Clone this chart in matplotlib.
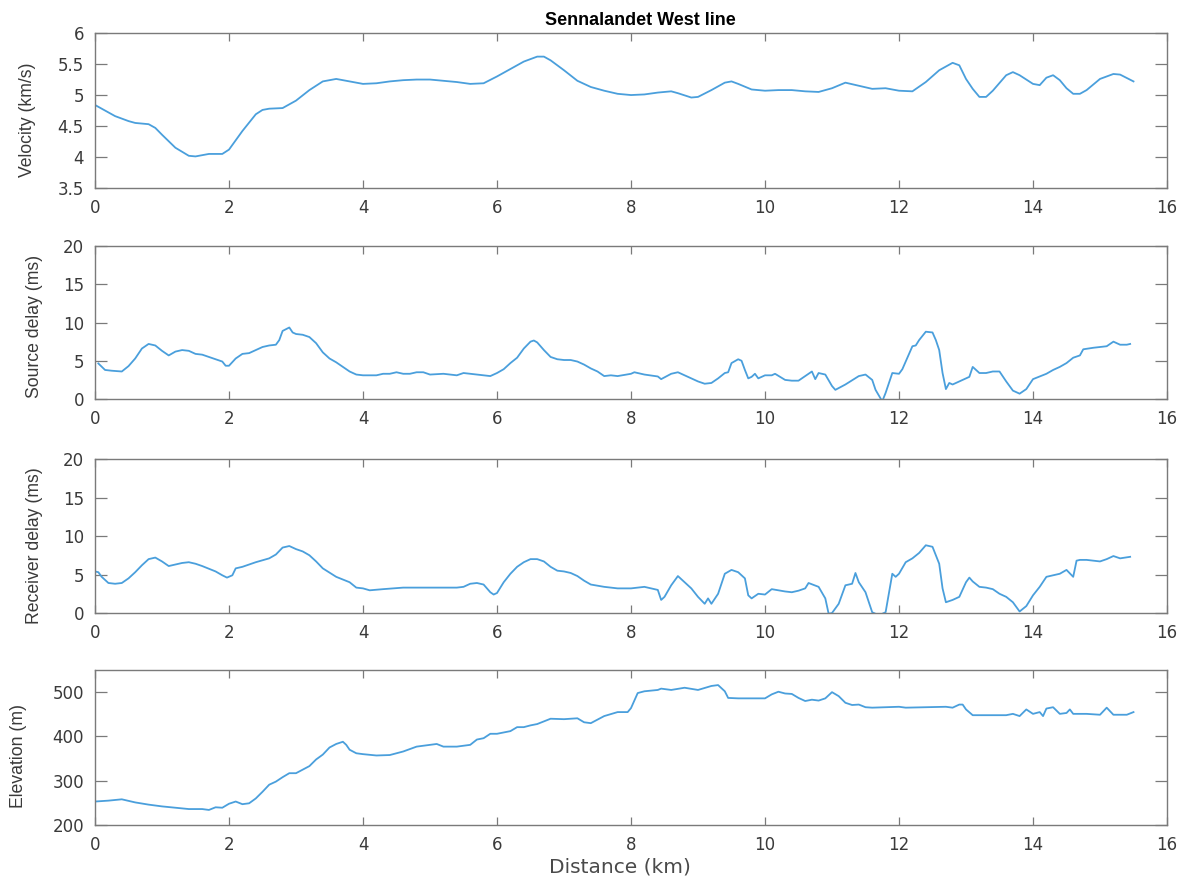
import matplotlib
matplotlib.use("Agg")
import matplotlib.pyplot as plt

plt.rcParams['font.family'] = ['DejaVu Sans']

# ---------------- data ----------------
vel_x = [0.0, 0.3, 0.5, 0.6, 0.8, 0.9, 1.0, 1.2, 1.4, 1.5, 1.7, 1.9, 2.0, 2.2, 2.4, 2.5, 2.6, 2.8,
         3.0, 3.2, 3.4, 3.6, 3.8, 4.0, 4.2, 4.4, 4.6, 4.8, 5.0, 5.2, 5.4, 5.6, 5.8, 6.0, 6.2, 6.4,
         6.6, 6.7, 6.8, 7.0, 7.2, 7.4, 7.6, 7.8, 8.0, 8.2, 8.4, 8.6, 8.7, 8.9, 9.0, 9.2, 9.4, 9.5,
         9.6, 9.8, 10.0, 10.2, 10.4, 10.6, 10.8, 11.0, 11.2, 11.4, 11.6, 11.8, 12.0, 12.2, 12.4,
         12.6, 12.8, 12.9, 13.0, 13.1, 13.2, 13.3, 13.4, 13.6, 13.7, 13.8, 14.0, 14.1, 14.2, 14.3,
         14.4, 14.5, 14.6, 14.7, 14.8, 15.0, 15.2, 15.3, 15.5]
vel_y = [4.84, 4.66, 4.58, 4.55, 4.53, 4.47, 4.36, 4.15, 4.02, 4.01, 4.05, 4.05, 4.12, 4.42, 4.69,
         4.76, 4.78, 4.79, 4.91, 5.08, 5.22, 5.26, 5.22, 5.18, 5.19, 5.22, 5.24, 5.25, 5.25, 5.23,
         5.21, 5.18, 5.19, 5.30, 5.42, 5.54, 5.62, 5.62, 5.56, 5.40, 5.23, 5.13, 5.07, 5.02, 5.00,
         5.01, 5.04, 5.06, 5.03, 4.96, 4.97, 5.08, 5.20, 5.22, 5.18, 5.09, 5.07, 5.08, 5.08, 5.06,
         5.05, 5.11, 5.20, 5.15, 5.10, 5.11, 5.07, 5.06, 5.21, 5.40, 5.52, 5.48, 5.26, 5.10, 4.97,
         4.97, 5.07, 5.32, 5.37, 5.32, 5.18, 5.16, 5.28, 5.32, 5.24, 5.11, 5.02, 5.02, 5.08, 5.26,
         5.34, 5.33, 5.22]

src_x = [0.05, 0.15, 0.25, 0.4, 0.5, 0.6, 0.7, 0.8, 0.9, 1.0, 1.1, 1.2, 1.3, 1.4, 1.5, 1.6, 1.7,
         1.8, 1.9, 1.95, 2.0, 2.1, 2.2, 2.3, 2.4, 2.5, 2.6, 2.7, 2.75, 2.8, 2.9, 2.95, 3.0, 3.1,
         3.2, 3.3, 3.4, 3.5, 3.6, 3.7, 3.8, 3.9, 4.0, 4.2, 4.3, 4.4, 4.5, 4.6, 4.7, 4.8, 4.9, 5.0,
         5.2, 5.4, 5.5, 5.6, 5.8, 5.9, 6.0, 6.1, 6.2, 6.3, 6.4, 6.5, 6.55, 6.6, 6.7, 6.8, 6.9, 7.0,
         7.1, 7.2, 7.3, 7.4, 7.5, 7.6, 7.7, 7.8, 8.0, 8.05, 8.2, 8.4, 8.45, 8.6, 8.7, 8.8, 9.0,
         9.1, 9.2, 9.3, 9.4, 9.45, 9.5, 9.6, 9.65, 9.7, 9.75, 9.8, 9.85, 9.9, 10.0, 10.1, 10.15,
         10.3, 10.4, 10.5, 10.6, 10.7, 10.75, 10.8, 10.9, 11.0, 11.05, 11.2, 11.4, 11.5, 11.6,
         11.65, 11.75, 11.8, 11.9, 12.0, 12.05, 12.1, 12.2, 12.25, 12.3, 12.4, 12.5, 12.55, 12.6,
         12.65, 12.7, 12.75, 12.8, 12.9, 13.0, 13.05, 13.1, 13.2, 13.3, 13.4, 13.5, 13.6, 13.7,
         13.8, 13.9, 14.0, 14.2, 14.3, 14.4, 14.5, 14.6, 14.7, 14.75, 14.9, 15.0, 15.1, 15.2,
         15.3, 15.4, 15.45]
src_y = [4.65, 3.8, 3.7, 3.6, 4.3, 5.3, 6.6, 7.2, 7.0, 6.3, 5.7, 6.2, 6.4, 6.3, 5.9, 5.8, 5.5,
         5.2, 4.9, 4.35, 4.35, 5.3, 5.9, 6.0, 6.4, 6.8, 7.0, 7.1, 7.7, 8.9, 9.35, 8.7, 8.5, 8.4,
         8.1, 7.3, 6.1, 5.3, 4.8, 4.2, 3.6, 3.2, 3.1, 3.1, 3.3, 3.3, 3.5, 3.3, 3.3, 3.5, 3.5, 3.2,
         3.3, 3.1, 3.4, 3.3, 3.1, 3.0, 3.4, 3.9, 4.7, 5.4, 6.6, 7.5, 7.65, 7.4, 6.4, 5.5, 5.2, 5.1,
         5.1, 4.9, 4.5, 4.0, 3.6, 3.0, 3.1, 3.0, 3.3, 3.5, 3.2, 2.95, 2.6, 3.3, 3.5, 3.1, 2.3,
         2.0, 2.1, 2.7, 3.4, 3.5, 4.7, 5.2, 5.0, 3.8, 2.7, 2.9, 3.3, 2.7, 3.1, 3.1, 3.3,
         2.5, 2.4, 2.4, 3.0, 3.6, 2.6, 3.4, 3.2, 1.7, 1.2, 1.9, 3.0, 3.2, 2.5,
         1.2, -0.3, 0.8, 3.4, 3.3, 3.9, 4.9, 6.9, 7.0, 7.7, 8.8, 8.7, 7.7, 6.4,
         3.4, 1.3, 2.1, 1.9, 2.3, 2.7, 2.9, 4.2, 3.4, 3.4, 3.6, 3.6, 2.3, 1.1,
         0.7, 1.3, 2.6, 3.3, 3.8, 4.2, 4.7, 5.4, 5.7, 6.5, 6.7, 6.8, 6.9, 7.5,
         7.1, 7.1, 7.2]

rec_x = [0.0, 0.05, 0.1, 0.2, 0.3, 0.4, 0.5, 0.6, 0.7, 0.8, 0.9, 1.0, 1.1, 1.2, 1.3, 1.4, 1.5,
         1.6, 1.8, 1.9, 1.97, 2.05, 2.1, 2.2, 2.4, 2.6, 2.7, 2.8, 2.9, 3.0, 3.1, 3.2, 3.3, 3.4,
         3.6, 3.8, 3.9, 4.0, 4.1, 4.3, 4.6, 5.0, 5.4, 5.5, 5.6, 5.7, 5.8, 5.9, 5.95, 6.0, 6.1,
         6.2, 6.3, 6.4, 6.5, 6.6, 6.7, 6.8, 6.9, 7.0, 7.1, 7.2, 7.3, 7.4, 7.6, 7.8, 8.0, 8.2,
         8.4, 8.45, 8.5, 8.6, 8.7, 8.8, 8.9, 9.0, 9.1, 9.15, 9.2, 9.3, 9.4, 9.5, 9.6, 9.7, 9.75,
         9.8, 9.9, 10.0, 10.1, 10.3, 10.4, 10.5, 10.6, 10.65, 10.8, 10.9, 10.95, 11.0, 11.1, 11.2,
         11.3, 11.35, 11.4, 11.5, 11.6, 11.7, 11.8, 11.9, 11.95, 12.0, 12.1, 12.2, 12.3, 12.4,
         12.5, 12.6, 12.65, 12.7, 12.8, 12.9, 13.0, 13.05, 13.1, 13.2, 13.3, 13.4, 13.5, 13.6,
         13.7, 13.8, 13.9, 14.0, 14.1, 14.2, 14.3, 14.4, 14.5, 14.6, 14.65, 14.7, 14.8, 15.0,
         15.1, 15.2, 15.3, 15.45]
rec_y = [5.4, 5.3, 4.7, 3.9, 3.8, 3.9, 4.5, 5.3, 6.2, 7.0, 7.2, 6.7, 6.1, 6.3, 6.5, 6.6, 6.4,
         6.1, 5.4, 4.9, 4.6, 4.9, 5.8, 6.0, 6.6, 7.1, 7.6, 8.5, 8.7, 8.3, 8.0, 7.5, 6.7, 5.8,
         4.7, 4.0, 3.3, 3.2, 2.95, 3.1, 3.3, 3.3, 3.3, 3.4, 3.8, 3.9, 3.7, 2.7, 2.4, 2.6, 4.0,
         5.1, 6.0, 6.6, 7.0, 7.0, 6.7, 6.0, 5.5, 5.4, 5.2, 4.8, 4.2, 3.7, 3.4, 3.2, 3.2, 3.4,
         3.0, 1.7, 2.1, 3.6, 4.8, 4.0, 3.2, 2.1, 1.2, 1.9, 1.2, 2.5, 5.1, 5.6, 5.3, 4.5, 2.3,
         1.9, 2.5, 2.4, 3.1, 2.8, 2.7, 2.9, 3.2, 3.9, 3.4, 1.9, -0.1, 0.0, 1.2, 3.6,
         3.8, 5.2, 4.0, 2.7, 0.1, -0.3, 0.1, 5.1, 4.7, 5.1, 6.6, 7.1, 7.8, 8.8,
         8.6, 6.4, 3.2, 1.4, 1.7, 2.1, 4.0, 4.6, 4.1, 3.4, 3.3, 3.1, 2.5, 2.1,
         1.4, 0.2, 0.9, 2.3, 3.4, 4.7, 4.9, 5.1, 5.6, 4.7, 6.8, 6.9, 6.9, 6.7,
         7.0, 7.4, 7.1, 7.3]

elev_x = [0.0, 0.2, 0.4, 0.6, 0.8, 1.0, 1.2, 1.4, 1.6, 1.7, 1.8, 1.9, 2.0, 2.1, 2.2, 2.3, 2.4,
          2.5, 2.6, 2.7, 2.8, 2.9, 3.0, 3.1, 3.2, 3.3, 3.4, 3.5, 3.6, 3.7, 3.75, 3.8, 3.9, 4.0,
          4.2, 4.4, 4.6, 4.8, 5.0, 5.1, 5.2, 5.4, 5.6, 5.7, 5.8, 5.9, 6.0, 6.2, 6.3, 6.4, 6.5,
          6.6, 6.7, 6.8, 7.0, 7.2, 7.3, 7.4, 7.6, 7.8, 7.95, 8.0, 8.1, 8.2, 8.4, 8.45, 8.6, 8.8,
          9.0, 9.2, 9.3, 9.4, 9.45, 9.6, 10.0, 10.1, 10.2, 10.3, 10.4, 10.5, 10.6, 10.7, 10.8,
          10.9, 11.0, 11.1, 11.2, 11.3, 11.4, 11.5, 11.6, 12.0, 12.1, 12.7, 12.8, 12.9, 12.95,
          13.0, 13.1, 13.6, 13.7, 13.8, 13.9, 14.0, 14.1, 14.15, 14.2, 14.3, 14.4, 14.5, 14.55,
          14.6, 14.8, 15.0, 15.1, 15.2, 15.4, 15.5]
elev_y = [253, 255, 258, 251, 246, 242, 239, 236, 236, 234, 240, 239, 248, 253, 247, 249, 260,
          275, 291, 298, 308, 317, 317, 325, 333, 348, 359, 375, 383, 388, 381, 370, 362, 360,
          357, 358, 366, 377, 381, 383, 377, 377, 381, 393, 396, 406, 406, 412, 421, 421, 425,
          428, 434, 440, 439, 441, 432, 430, 446, 455, 455, 464, 498, 502, 505, 508, 505, 510,
          505, 514, 516, 502, 487, 486, 486, 495, 501, 497, 496, 487, 480, 483, 481,
          486, 500, 491, 476, 471, 472, 466, 465, 467, 465, 467, 465, 472, 472,
          461, 448, 448, 451, 446, 461, 451, 455, 446, 463, 466, 451, 453, 461,
          451, 451, 449, 465, 449, 449, 455]

title = "Sennalandet West line"
ylabels = ["Velocity (km/s)", "Source delay (ms)", "Receiver delay (ms)", "Elevation (m)"]
xlabel = "Distance (km)"
xticks = [0, 2, 4, 6, 8, 10, 12, 14, 16]
yticks = [[3.5, 4, 4.5, 5, 5.5, 6], [0, 5, 10, 15, 20], [0, 5, 10, 15, 20], [200, 300, 400, 500]]
ylims = [(3.5, 6), (0, 20), (0, 20), (200, 550)]
ytick_labels = [["3.5", "4", "4.5", "5", "5.5", "6"], None, None, None]

# ---------------- figure ----------------
fig = plt.figure(figsize=(11.89, 8.77), dpi=100)
line_color = '#4a9fdc'
edge = '#7a7a7a'
text_c = '#3a3a3a'
narrow = ['Liberation Sans', 'DejaVu Sans']

boxes = [
    (0.0799, 0.7856, 0.9016, 0.1767),
    (0.0799, 0.5450, 0.9016, 0.1745),
    (0.0799, 0.3010, 0.9016, 0.1756),
    (0.0799, 0.0593, 0.9016, 0.1767),
]
label_pos = [(-0.0634, 0.44), (-0.0569, 0.477), (-0.0569, 0.44), (-0.0718, 0.445)]
series = [(vel_x, vel_y), (src_x, src_y), (rec_x, rec_y), (elev_x, elev_y)]

for i, (box, (xs, ys)) in enumerate(zip(boxes, series)):
    ax = fig.add_axes(box)
    ax.plot(xs, ys, color=line_color, lw=1.3)
    ax.set_xlim(0, 16)
    ax.set_ylim(*ylims[i])
    ax.set_xticks(xticks)
    ax.set_yticks(yticks[i])
    if ytick_labels[i] is not None:
        ax.set_yticklabels(ytick_labels[i])
    ax.tick_params(axis='x', direction='in', top=True, length=5.8, width=0.9,
                   color=edge, labelcolor=text_c, labelsize=12, pad=8)
    ax.tick_params(axis='y', direction='in', right=True, length=8.6, width=0.9,
                   color=edge, labelcolor=text_c, labelsize=12, pad=8)
    for s in ax.spines.values():
        s.set_color(edge)
        s.set_linewidth(1.0)
    ax.set_ylabel(ylabels[i], fontsize=12.7, color=text_c, va='center', family=narrow)
    ax.yaxis.set_label_coords(*label_pos[i])
    if i == 0:
        ax.set_title(title, fontsize=13, fontweight='bold', color='black', pad=6, x=0.509,
                     family=narrow)
    if i == 3:
        ax.set_xlabel(xlabel, fontsize=14.5, color='#4a4a4a', va='center')
        ax.xaxis.set_label_coords(0.49, -0.271)

fig.savefig("out.png", dpi=100, facecolor='white')
